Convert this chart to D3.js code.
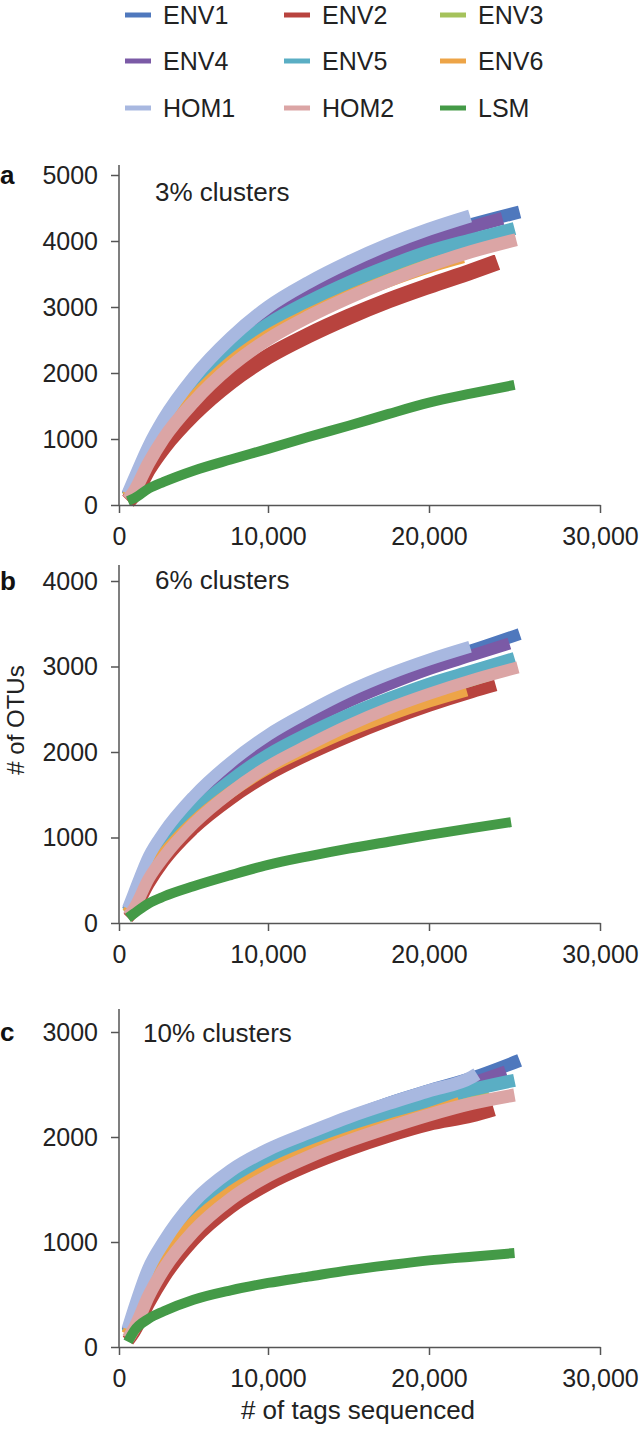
<!DOCTYPE html>
<html>
<head>
<meta charset="utf-8">
<script src="https://cdn.jsdelivr.net/npm/d3@7"></script>
<style>
  html, body { margin: 0; padding: 0; background: #fff; }
  svg { display: block; font-family: "Liberation Sans", Arial, sans-serif; }
  .tick text { fill: #222; }
</style>
</head>
<body>
<svg id="chart" width="641" height="1432"></svg>
<script>
// sample names, in legend / drawing order
const SAMPLES = ["ENV1", "ENV2", "ENV3", "ENV4", "ENV5", "ENV6", "HOM1", "HOM2", "LSM"];
const COLORS = ["#4f78bd", "#b8433e", "#a5c25b", "#7b5aa6", "#5aaec4", "#eda447", "#a8b8e0", "#dba5a5", "#449a47"];

const TAGS = [600, 1000, 2000, 3000, 5000, 7500, 10000, 12500, 15000, 17500, 20000, 22500];
const X_TICKS = [0, 10000, 20000, 30000];

// 3% clusters: OTUs at each TAGS value (null = curve already ended)
const otus3 = [
  [150, 330, 840, 1240, 1850, 2440, 2890, 3250, 3560, 3830, 4060, 4250],
  [60, 160, 560, 880, 1380, 1870, 2250, 2570, 2850, 3100, 3320, 3540],
  [130, 290, 740, 1110, 1670, 2210, 2620, 2950, 3230, 3470, 3680, 3860],
  [150, 340, 840, 1240, 1840, 2430, 2870, 3220, 3520, 3780, 4010, 4210],
  [140, 320, 800, 1180, 1760, 2320, 2740, 3080, 3370, 3620, 3840, 4020],
  [130, 280, 720, 1080, 1620, 2160, 2560, 2880, 3160, 3400, 3610, null],
  [170, 380, 890, 1300, 1930, 2530, 3000, 3370, 3680, 3950, 4180, null],
  [80, 200, 640, 1010, 1560, 2100, 2510, 2850, 3140, 3400, 3630, 3840],
  [60, 100, 250, 350, 520, 690, 850, 1030, 1200, 1380, 1550, 1690]
];
const endTags3 = [25300, 24000, 23500, 24300, 25000, 22000, 22400, 25100, 25000];
const endOtus3 = [4440, 3680, 3930, 4340, 4190, 3760, 4380, 4020, 1820];

// 6% clusters
const otus6 = [
  [150, 300, 720, 980, 1400, 1800, 2130, 2400, 2640, 2850, 3030, 3190],
  [60, 140, 460, 720, 1100, 1450, 1730, 1970, 2180, 2370, 2540, 2700],
  [120, 250, 600, 840, 1220, 1580, 1870, 2110, 2330, 2520, 2690, 2840],
  [150, 300, 710, 970, 1390, 1780, 2100, 2360, 2590, 2790, 2970, 3130],
  [140, 280, 660, 900, 1300, 1670, 1970, 2220, 2440, 2630, 2800, 2950],
  [120, 240, 570, 810, 1180, 1530, 1810, 2040, 2250, 2430, 2590, null],
  [170, 350, 780, 1060, 1480, 1880, 2200, 2470, 2710, 2910, 3080, null],
  [80, 170, 520, 770, 1160, 1530, 1830, 2080, 2310, 2510, 2680, 2840],
  [60, 110, 230, 310, 430, 560, 680, 780, 870, 950, 1030, 1110]
];
const endTags6 = [25300, 23900, 23500, 24700, 25000, 22200, 22400, 25200, 24800];
const endOtus6 = [3380, 2780, 2900, 3270, 3100, 2720, 3230, 2990, 1180];

// 10% clusters
const otus10 = [
  [150, 300, 700, 960, 1330, 1640, 1860, 2030, 2180, 2320, 2440, 2560],
  [60, 140, 420, 660, 1020, 1330, 1550, 1730, 1880, 2010, 2120, 2200],
  [130, 260, 600, 850, 1200, 1500, 1710, 1880, 2020, 2150, 2270, 2370],
  [150, 300, 690, 950, 1320, 1620, 1830, 2000, 2150, 2290, 2400, 2510],
  [140, 280, 650, 900, 1270, 1570, 1780, 1950, 2100, 2230, 2340, 2450],
  [120, 250, 580, 830, 1180, 1470, 1680, 1850, 1990, 2110, 2220, null],
  [170, 350, 750, 1000, 1380, 1680, 1880, 2040, 2190, 2320, 2440, 2570],
  [80, 170, 490, 740, 1100, 1410, 1630, 1810, 1960, 2090, 2210, 2320],
  [50, 150, 270, 340, 450, 540, 610, 670, 730, 780, 825, 860]
];
const endTags10 = [25300, 23800, 23500, 24500, 25000, 21800, 22800, 25000, 25000];
const endOtus10 = [2730, 2260, 2420, 2620, 2540, 2320, 2600, 2400, 895];

const PANELS = [
  { letter: "a", title: "3% clusters", values: otus3, endTags: endTags3, endOtus: endOtus3,
    yTicks: [0, 1000, 2000, 3000, 4000, 5000], base: 505, topTick: 175, axisTop: 165,
    titleX: 155, titleY: 192, width: 13 },
  { letter: "b", title: "6% clusters", values: otus6, endTags: endTags6, endOtus: endOtus6,
    yTicks: [0, 1000, 2000, 3000, 4000], base: 923, topTick: 581, axisTop: 565,
    titleX: 155, titleY: 580, width: 12 },
  { letter: "c", title: "10% clusters", values: otus10, endTags: endTags10, endOtus: endOtus10,
    yTicks: [0, 1000, 2000, 3000], base: 1347, topTick: 1032, axisTop: 1009,
    titleX: 143, titleY: 1033, width: 13 }
];

const svg = d3.select("#chart");
const FONT = 25;
const AXIS_COLOR = "#555";

// x axis in the original is slightly stretched towards the right
const x = d3.scaleLinear().domain(X_TICKS).range([119, 268, 429, 600]);

function seriesPoints(panel, i) {
  const pts = [];
  TAGS.forEach((t, j) => {
    const v = panel.values[i][j];
    if (v != null && t < panel.endTags[i]) pts.push([t, v]);
  });
  pts.push([panel.endTags[i], panel.endOtus[i]]);
  return pts;
}

PANELS.forEach((panel) => {
  const y = d3.scaleLinear()
    .domain([0, d3.max(panel.yTicks)])
    .range([panel.base, panel.topTick]);

  const g = svg.append("g");

  const line = d3.line()
    .x((d) => x(d[0]))
    .y((d) => y(d[1]))
    .curve(d3.curveMonotoneX);

  SAMPLES.forEach((name, i) => {
    let w = panel.width;
    if (name === "LSM") w = 10;
    if (name === "ENV2" && panel.letter === "a") w = 16;
    g.append("path")
      .datum(seriesPoints(panel, i))
      .attr("fill", "none")
      .attr("stroke", COLORS[i])
      .attr("stroke-width", w)
      .attr("stroke-linecap", "butt")
      .attr("d", line);
  });

  // y axis
  const yAxis = g.append("g")
    .attr("transform", `translate(${x(0)},0)`)
    .call(d3.axisLeft(y).tickValues(panel.yTicks).tickFormat(d3.format("d"))
      .tickSize(8).tickPadding(13).tickSizeOuter(0));
  yAxis.select(".domain").remove();
  yAxis.append("line")
    .attr("y1", panel.axisTop).attr("y2", panel.base)
    .attr("stroke", AXIS_COLOR).attr("stroke-width", 1.5);

  // x axis
  const xAxis = g.append("g")
    .attr("transform", `translate(0,${panel.base})`)
    .call(d3.axisBottom(x).tickValues(X_TICKS).tickFormat(d3.format(","))
      .tickSize(8).tickPadding(14).tickSizeOuter(0));
  xAxis.select(".domain").attr("stroke", AXIS_COLOR).attr("stroke-width", 1.5);

  [yAxis, xAxis].forEach((ax) => {
    ax.selectAll(".tick line").attr("stroke", AXIS_COLOR).attr("stroke-width", 1.5);
    ax.selectAll(".tick text").attr("font-size", FONT).attr("font-family", "Liberation Sans, Arial, sans-serif");
  });

  g.append("text")
    .attr("x", 0).attr("y", panel.topTick)
    .attr("dy", "0.35em")
    .attr("font-size", 26).attr("font-weight", "bold").attr("fill", "#111")
    .text(panel.letter);

  g.append("text")
    .attr("x", panel.titleX).attr("y", panel.titleY)
    .attr("dy", "0.35em")
    .attr("font-size", 26).attr("fill", "#222")
    .text(panel.title);
});

// axis titles
svg.append("text")
  .attr("transform", "translate(24,720) rotate(-90)")
  .attr("text-anchor", "middle")
  .attr("font-size", 24).attr("fill", "#222")
  .text("# of OTUs");

svg.append("text")
  .attr("x", 358).attr("y", 1419)
  .attr("text-anchor", "middle")
  .attr("font-size", 26).attr("fill", "#222")
  .text("# of tags sequenced");

// legend, 3 columns
const LEGEND_COLS = [125, 284, 440];
const LEGEND_ROWS = [15, 61, 108];
const legend = svg.append("g");
SAMPLES.forEach((name, i) => {
  const cx = LEGEND_COLS[i % 3];
  const cy = LEGEND_ROWS[Math.floor(i / 3)];
  legend.append("line")
    .attr("x1", cx).attr("x2", cx + 26)
    .attr("y1", cy).attr("y2", cy)
    .attr("stroke", COLORS[i]).attr("stroke-width", 5);
  legend.append("text")
    .attr("x", cx + 38).attr("y", cy)
    .attr("dy", "0.35em")
    .attr("font-size", FONT).attr("fill", "#222")
    .text(name);
});
</script>
</body>
</html>
